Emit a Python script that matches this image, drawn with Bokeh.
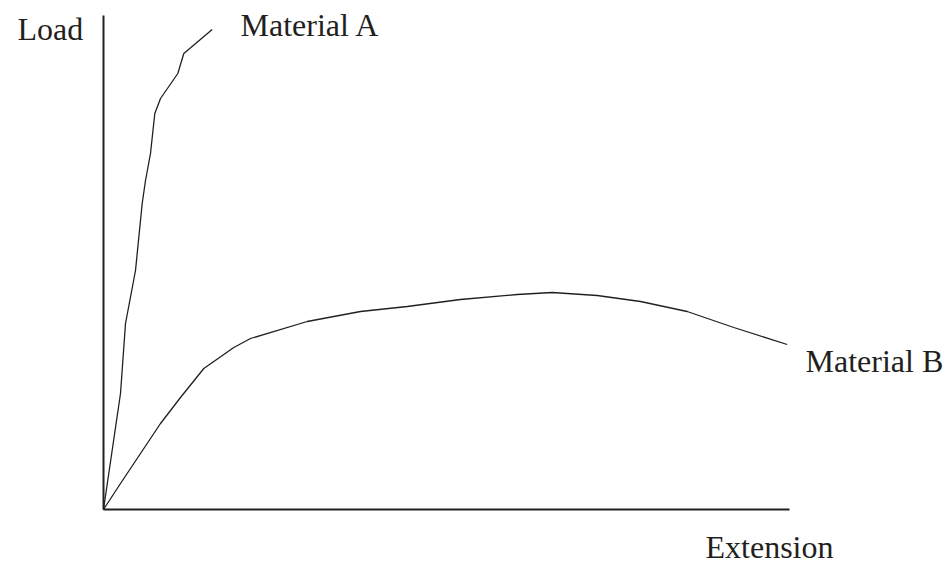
from bokeh.plotting import figure
from bokeh.models import Range1d, Label, LinearAxis, FixedTicker
from bokeh.embed import file_html
from bokeh.resources import INLINE

# Data (arbitrary units)
a_ext = [0, 17, 22, 32, 38.7, 42, 47, 51.3, 57, 74.3, 80.3, 108.7]
a_load = [0, 116, 186, 239, 306, 329, 356, 396, 411, 436, 456, 480]

b_ext = [0, 17, 37, 57, 77, 100.3, 130.3, 147, 203.7, 257, 303.7, 357,
         413.7, 448.7, 493.7, 537, 583.7, 630.3, 683.7]
b_load = [0, 26, 56, 86, 112, 141, 162, 171, 188, 198, 203, 210,
          215, 217, 214, 208, 198, 182, 165]

labels = ["Load", "Material A", "Material B", "Extension"]
ext_max = 686
load_max = 494

INK = "#231f20"
FONT = "Liberation Serif"

p = figure(frame_width=946, frame_height=566, min_border=0,
           x_range=Range1d(-103, 843), y_range=Range1d(-57, 509),
           output_backend="svg", toolbar_location=None,
           x_axis_location=None, y_axis_location=None)
p.xgrid.visible = False
p.ygrid.visible = False
p.outline_line_color = None
p.background_fill_color = "white"
p.border_fill_color = "white"

yax = LinearAxis(fixed_location=0, bounds=(0, load_max),
                 ticker=FixedTicker(ticks=[]),
                 major_tick_line_color=None, minor_tick_line_color=None,
                 axis_line_color=INK, axis_line_width=2)
xax = LinearAxis(fixed_location=0, bounds=(0, ext_max),
                 ticker=FixedTicker(ticks=[]),
                 major_tick_line_color=None, minor_tick_line_color=None,
                 axis_line_color=INK, axis_line_width=2)
p.add_layout(yax, "left")
p.add_layout(xax, "below")

p.line(a_ext, a_load, line_color=INK, line_width=1.3)
p.line(b_ext, b_load, line_color=INK, line_width=1.3)

pos = [(-86, 480.5), (137, 484.5), (702, 148.5), (602, -37.5)]
for txt, (x, y) in zip(labels, pos):
    p.add_layout(Label(x=x, y=y, text=txt, text_font=FONT,
                       text_font_size="32px", text_color=INK,
                       text_baseline="alphabetic", text_align="left"))

open("out.html", "w").write(file_html(p, INLINE))
